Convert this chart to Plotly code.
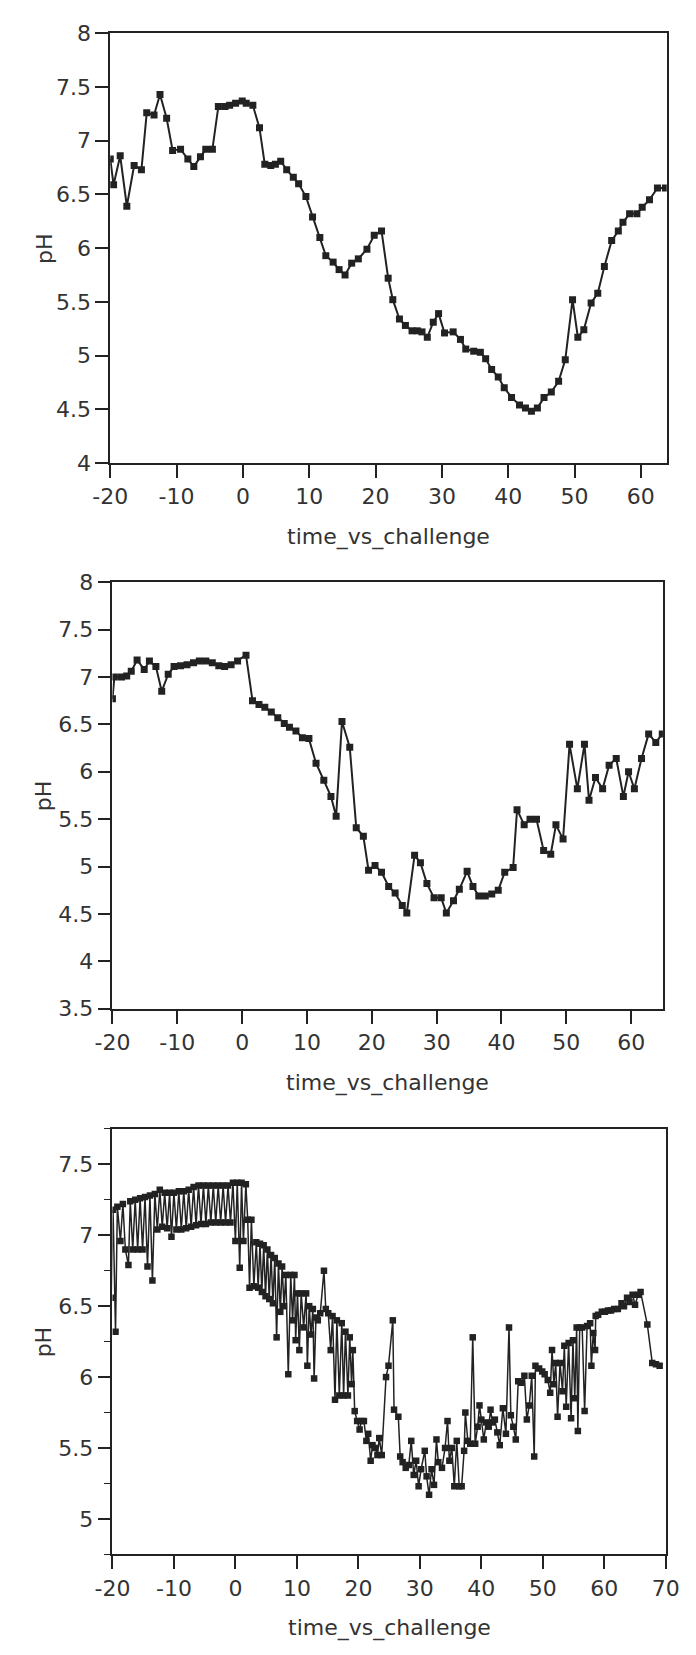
import plotly.graph_objects as go

# ---------------- data ----------------
p1_x = [-20, -19.5, -18.5, -17.5, -16.4, -15.3, -14.5, -13.4, -12.5, -11.5, -10.6, -9.4, -8.3, -7.4,
        -6.4, -5.6, -4.6, -3.7, -2.7, -2.0, -1.1, -0.1, 0.5, 1.5, 2.5, 3.3, 4.2, 4.9, 5.7, 6.6, 7.6,
        8.4, 9.5, 10.5, 11.6, 12.5, 13.6, 14.5, 15.4, 16.4, 17.4, 18.7, 19.8, 20.9, 21.9, 22.6, 23.6,
        24.5, 25.5, 26.3, 27.0, 27.8, 28.7, 29.5, 30.4, 31.7, 32.8, 33.6, 34.8, 35.8, 36.6, 37.5,
        38.5, 39.4, 40.5, 41.7, 42.6, 43.5, 44.4, 45.4, 46.5, 47.6, 48.6, 49.7, 50.5, 51.4, 52.5,
        53.5, 54.5, 55.6, 56.6, 57.3, 58.3, 59.4, 60.2, 61.3, 62.5, 63.7]
p1_y = [6.83, 6.59, 6.86, 6.39, 6.77, 6.73, 7.26, 7.24, 7.43, 7.21, 6.91, 6.92, 6.83, 6.76,
        6.85, 6.92, 6.92, 7.32, 7.32, 7.33, 7.35, 7.37, 7.35, 7.33, 7.12, 6.78, 6.77, 6.78, 6.81,
        6.73, 6.66, 6.60, 6.48, 6.29, 6.10, 5.93, 5.87, 5.80, 5.75, 5.86, 5.90, 5.99, 6.12, 6.16,
        5.72, 5.52, 5.34, 5.28, 5.23, 5.23, 5.22, 5.17, 5.31, 5.39, 5.21, 5.22, 5.15, 5.06, 5.04,
        5.03, 4.97, 4.87, 4.80, 4.70, 4.61, 4.54, 4.51, 4.48, 4.51, 4.61, 4.66, 4.76, 4.96, 5.52,
        5.17, 5.24, 5.49, 5.58, 5.83, 6.07, 6.16, 6.24, 6.32, 6.32, 6.38, 6.45, 6.56, 6.56]

p2_x = [-20, -19.7, -18.6, -17.8, -17.1, -16.2, -15.1, -14.3, -13.3, -12.4, -11.4, -10.5, -9.5,
        -8.5, -7.5, -6.6, -5.6, -4.6, -3.6, -2.7, -1.7, -0.7, 0.6, 1.6, 2.6, 3.5, 4.5, 5.5, 6.5,
        7.3, 8.3, 9.3, 10.3, 11.4, 12.6, 13.7, 14.5, 15.4, 16.6, 17.6, 18.7, 19.5, 20.5, 21.5,
        22.6, 23.6, 24.7, 25.4, 26.6, 27.5, 28.5, 29.6, 30.7, 31.5, 32.6, 33.5, 34.7, 35.6, 36.5,
        37.5, 38.5, 39.5, 40.5, 41.8, 42.4, 43.5, 44.4, 45.4, 46.5, 47.6, 48.4, 49.5, 50.5, 51.7,
        52.8, 53.5, 54.5, 55.6, 56.6, 57.7, 58.8, 59.6, 60.5, 61.6, 62.7, 63.8, 64.8]
p2_y = [6.77, 7.0, 7.0, 7.01, 7.06, 7.18, 7.08, 7.17, 7.11, 6.85, 7.03, 7.11, 7.12, 7.13, 7.15,
        7.17, 7.17, 7.15, 7.12, 7.11, 7.13, 7.17, 7.23, 6.75, 6.71, 6.68, 6.63, 6.57, 6.51, 6.47,
        6.43, 6.36, 6.35, 6.09, 5.91, 5.74, 5.53, 6.53, 6.26, 5.41, 5.32, 4.96, 5.01, 4.94, 4.79,
        4.72, 4.59, 4.51, 5.12, 5.04, 4.82, 4.67, 4.67, 4.51, 4.64, 4.76, 4.95, 4.79, 4.69, 4.69,
        4.71, 4.75, 4.94, 4.99, 5.60, 5.44, 5.50, 5.50, 5.17, 5.13, 5.44, 5.29, 6.29, 5.82, 6.29,
        5.70, 5.94, 5.82, 6.07, 6.14, 5.74, 6.0, 5.82, 6.14, 6.40, 6.31, 6.40]

p3_x = [-20.2, -19.9, -19.5, -19.2, -18.7, -18.3, -17.9, -17.4, -17.1, -16.7, -16.3, -15.9, -15.5,
        -15.1, -14.7, -14.3, -13.9, -13.5, -13.1, -12.7, -12.3, -11.9, -11.5, -11.1, -10.7, -10.4,
        -10.0, -9.6, -9.2, -8.8, -8.4, -8.0, -7.6, -7.2, -6.8, -6.4, -6.0, -5.6, -5.2, -4.8, -4.4,
        -4.0, -3.6, -3.2, -2.8, -2.4, -2.0, -1.6, -1.2, -0.8, -0.4, 0.0, 0.3, 0.7, 1.0, 1.3, 1.7,
        2.0, 2.3, 2.6, 3.0, 3.4, 3.7, 4.0, 4.3, 4.6, 4.9, 5.2, 5.5, 5.8, 6.1, 6.4, 6.7, 7.0, 7.3,
        7.6, 7.9, 8.2, 8.6, 9.0, 9.3, 9.6, 9.8, 10.1, 10.4, 10.7, 11.1, 11.5, 11.7, 12.0, 12.3,
        12.6, 12.8, 13.1, 13.4, 13.8, 14.4, 14.7, 15.1, 15.5, 15.8, 16.2, 16.5, 16.9, 17.3, 17.6,
        17.9, 18.3, 18.6, 18.9, 19.1, 19.4, 19.8, 20.2, 20.5, 20.9, 21.3, 21.6, 22.0, 22.3, 22.7,
        23.1, 23.4, 23.8, 24.5, 24.9, 25.6, 25.8, 26.5, 26.8, 27.2, 27.7, 28.2, 28.6, 29.0, 29.4,
        29.8, 30.2, 30.8, 31.1, 31.5, 31.9, 32.3, 32.7, 33.0, 33.6, 34.1, 34.5, 34.8, 35.2, 35.6,
        36.0, 36.4, 36.8, 37.2, 37.4, 37.8, 38.2, 38.6, 39.0, 39.4, 39.7, 40.0, 40.4, 40.8, 41.2,
        41.5, 41.8, 42.2, 42.6, 43.0, 43.5, 44.0, 44.5, 44.8, 45.2, 45.6, 46.0, 46.5, 47.0, 47.4,
        47.8, 48.2, 48.6, 48.8, 49.4, 49.9, 50.3, 50.8, 51.2, 51.5, 51.8, 52.1, 52.4, 52.8, 53.2,
        53.5, 53.8, 54.2, 54.6, 54.9, 55.2, 55.5, 55.7, 56.0, 56.4, 56.8, 57.2, 57.7, 57.9, 58.2,
        58.5, 58.6, 59.0, 59.6, 60.1, 60.6, 61.1, 61.6, 62.2, 62.8, 63.2, 63.7, 64.1, 64.6, 65.0,
        65.5, 65.9, 67.0, 67.8, 68.4, 69.0]
p3_y = [6.56, 7.18, 6.32, 7.20, 6.96, 7.22, 6.90, 6.79, 7.24, 6.90, 7.25, 6.90, 7.26,
        6.90, 7.27, 6.78, 7.28, 6.68, 7.29, 7.04, 7.32, 7.06, 7.30, 7.05, 7.30, 6.99,
        7.30, 7.04, 7.31, 7.04, 7.31, 7.05, 7.32, 7.06, 7.34, 7.07, 7.35, 7.08, 7.35, 7.08, 7.35,
        7.09, 7.35, 7.09, 7.35, 7.09, 7.35, 7.09, 7.35, 7.09, 7.37, 6.96, 7.37, 6.77, 7.37, 6.96, 7.36,
        7.11, 6.63, 7.11, 6.64, 6.95, 6.63, 6.94, 6.60, 6.93, 6.57, 6.90, 6.55, 6.86, 6.52, 6.84, 6.28, 6.80, 6.46,
        6.78, 6.50, 6.72, 6.02, 6.72, 6.40, 6.72, 6.26, 6.59, 6.19, 6.59, 6.35, 6.59, 6.08, 6.50, 6.30,
        6.48, 5.99, 6.42, 6.40, 6.45, 6.75, 6.48, 6.45, 6.19, 6.43, 5.84, 6.40, 5.87, 6.38, 5.87,
        6.32, 5.87, 6.28, 5.95, 6.19, 5.76, 5.69, 5.63, 5.69, 5.69, 5.55, 5.60, 5.41, 5.52, 5.50,
        5.45, 5.57, 5.45, 6.00, 6.08, 6.40, 5.77, 5.72, 5.44, 5.40, 5.36, 5.38, 5.55, 5.31, 5.41,
        5.23, 5.35, 5.48, 5.30, 5.17, 5.35, 5.24, 5.56, 5.40, 5.36, 5.50, 5.69, 5.41, 5.50, 5.23,
        5.55, 5.23, 5.23, 5.48, 5.75, 5.55, 5.53, 6.28, 5.53, 5.65, 5.80, 5.70, 5.56, 5.68, 5.65,
        5.77, 5.68, 5.70, 5.61, 5.52, 5.78, 5.60, 6.35, 5.73, 5.65, 5.56, 5.97, 5.96, 6.01, 5.70,
        5.80, 6.01, 5.44, 6.08, 6.06, 6.04, 6.02, 5.98, 5.89, 6.19, 5.95, 6.10, 5.72, 6.10, 5.90,
        6.22, 5.79, 6.24, 5.71, 6.26, 5.85, 6.35, 5.62, 6.35, 6.35, 5.76, 6.36, 6.38, 6.08, 6.31,
        6.19, 6.43, 6.44, 6.46, 6.46, 6.47, 6.47, 6.48, 6.48, 6.52, 6.50, 6.56, 6.53, 6.58, 6.51,
        6.58, 6.60, 6.37, 6.10, 6.09, 6.08]

# tick labels (plain hyphen, as in the original)
x_ticks_12 = [-20, -10, 0, 10, 20, 30, 40, 50, 60]
x_ticks_3 = [-20, -10, 0, 10, 20, 30, 40, 50, 60, 70]
y_ticks_1 = [4, 4.5, 5, 5.5, 6, 6.5, 7, 7.5, 8]
y_ticks_2 = [3.5, 4, 4.5, 5, 5.5, 6, 6.5, 7, 7.5, 8]
y_ticks_3 = [5, 5.5, 6, 6.5, 7, 7.5]

x_title = "time_vs_challenge"
y_title = "pH"

def lab(v):
    return ("%g" % v).replace("\u2212", "-")

# ---------------- styling ----------------
INK = "#222222"
TXT = "#333333"
FONT = "DejaVu Sans"
FS = 22

fig = go.Figure()
for i, (xs, ys, lw, ms) in enumerate([(p1_x, p1_y, 2.0, 7), (p2_x, p2_y, 2.0, 7), (p3_x, p3_y, 1.5, 6.5)]):
    suf = "" if i == 0 else str(i + 1)
    fig.add_trace(go.Scatter(
        x=xs, y=ys, mode="lines+markers",
        line=dict(color=INK, width=lw),
        marker=dict(symbol="square", size=ms, color=INK),
        xaxis="x" + suf, yaxis="y" + suf, showlegend=False, hoverinfo="skip"))

def ax(**kw):
    d = dict(showline=True, linecolor=INK, linewidth=1.6, mirror=True,
             ticks="outside", ticklen=13, tickwidth=1.6, tickcolor=INK,
             showgrid=False, zeroline=False,
             tickfont=dict(family=FONT, size=FS, color=TXT))
    d.update(kw)
    return d

W, H = 696, 1655
panels = [
    # (x left px, x right px, y top px, y bottom px, xrange, yrange, xticks, yticks)
    (96.7, 680, 21.7, 457.8, [-20, 63.9], [4, 8], x_ticks_12, y_ticks_1),
    (99, 676, 579, 1012, [-20, 64.9], [3.5, 8], x_ticks_12, y_ticks_2),
    (99, 679, 1134, 1566, [-20, 70], [4.75, 7.75], x_ticks_3, y_ticks_3),
]

layout = dict(width=W, height=H, margin=dict(l=0, r=0, t=0, b=0),
              paper_bgcolor="white", plot_bgcolor="white", showlegend=False)
annotations = []
for i, (xl, xr, yt, yb, xr_, yr_, xt, yt_) in enumerate(panels):
    suf = "" if i == 0 else str(i + 1)
    xd = [xl / W, xr / W]
    yd = [1 - yb / H, 1 - yt / H]
    layout["xaxis" + suf] = ax(domain=xd, range=xr_, anchor="y" + suf,
                               tickmode="array", tickvals=xt, ticktext=[lab(v) for v in xt])
    yk = ax(domain=yd, range=yr_, anchor="x" + suf,
            tickmode="array", tickvals=yt_, ticktext=[lab(v) for v in yt_])
    if i == 2:
        yk["minor"] = dict(ticks="outside", ticklen=7, tickwidth=1.4, tickcolor=INK,
                           tickmode="linear", tick0=4.75, dtick=0.25, showgrid=False)
    layout["yaxis" + suf] = yk
    annotations.append(dict(text=x_title, xref="paper", yref="paper",
                            x=(xl + xr) / 2 / W, y=1 - (yb + 75) / H,
                            showarrow=False, xanchor="center", yanchor="middle",
                            font=dict(family=FONT, size=FS, color=TXT)))
    annotations.append(dict(text=y_title, xref="paper", yref="paper",
                            x=27 / W, y=1 - (yt + yb) / 2 / H, textangle=-90,
                            showarrow=False, xanchor="center", yanchor="middle",
                            font=dict(family=FONT, size=FS, color=TXT)))
layout["annotations"] = annotations
fig.update_layout(**layout)
fig.write_html("out.html")
